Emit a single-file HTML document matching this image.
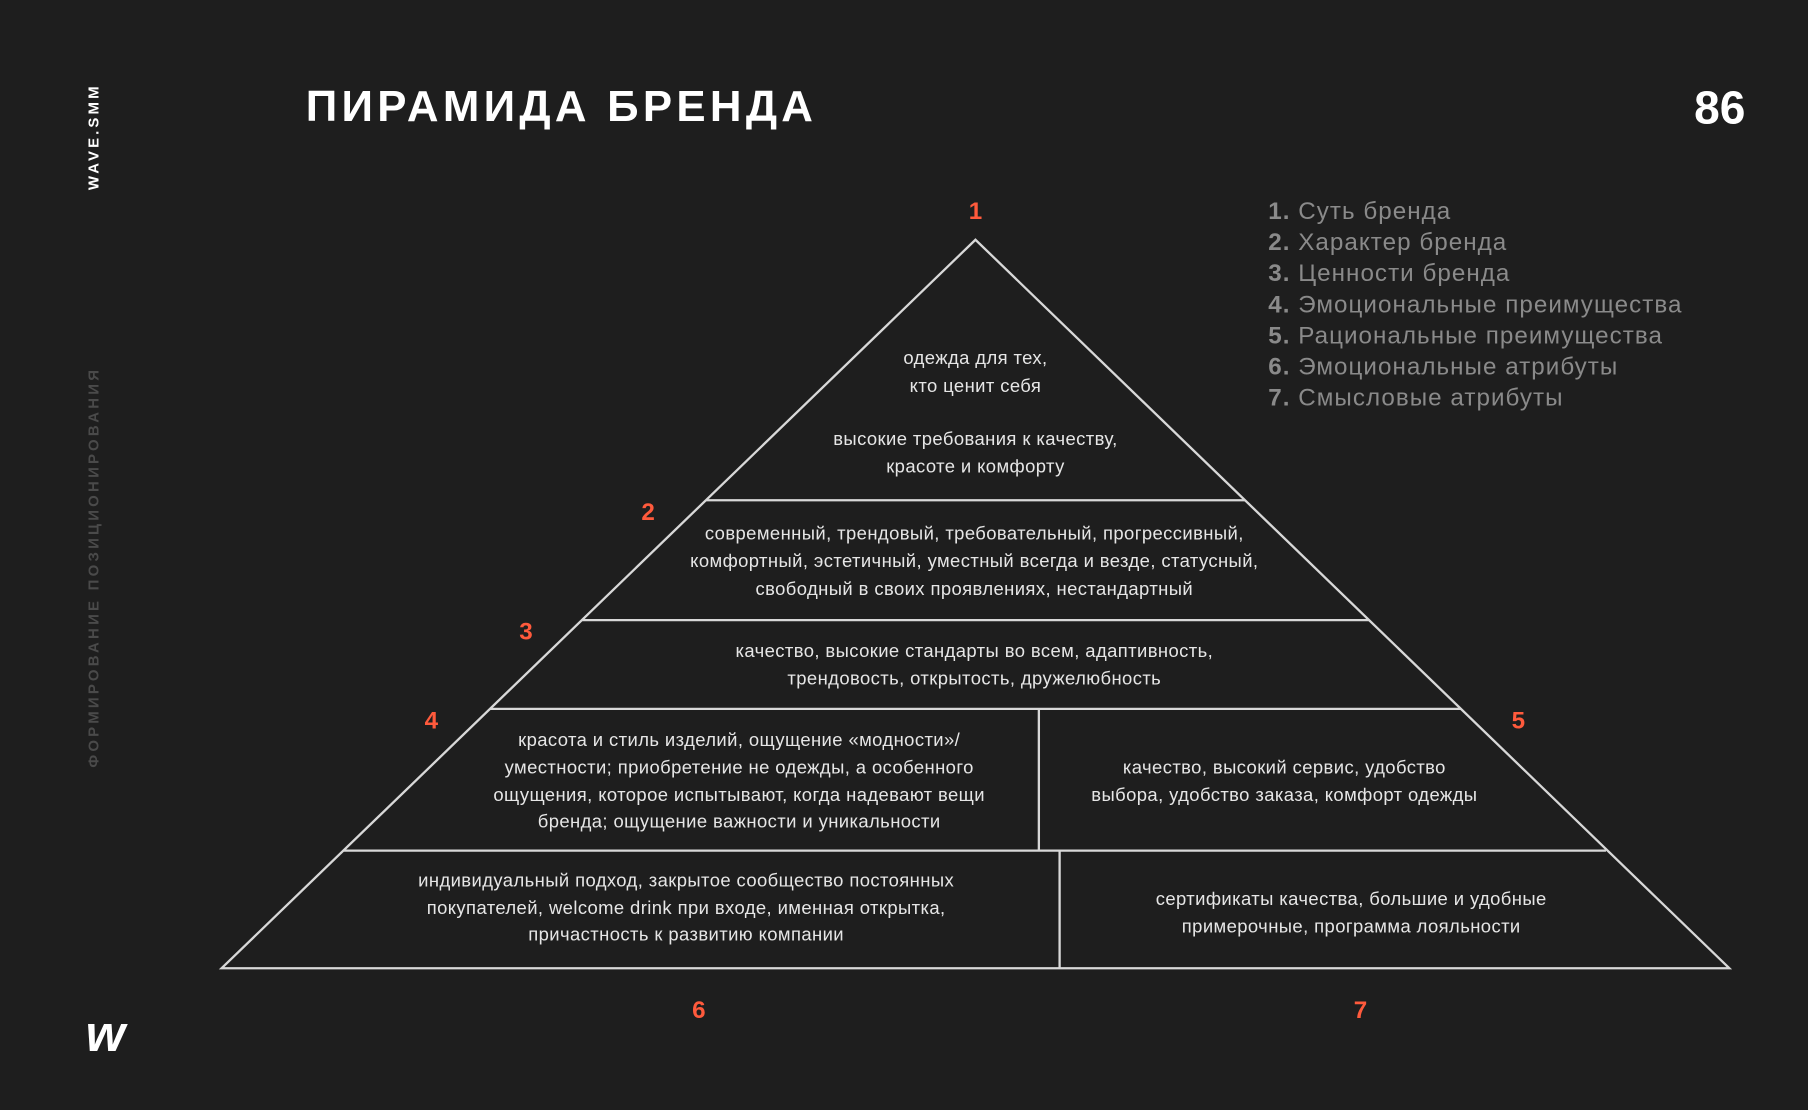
<!DOCTYPE html>
<html><head><meta charset="utf-8"><style>
html,body{margin:0;padding:0;background:#1e1e1e;}
svg{display:block}
text{font-family:"Liberation Sans",sans-serif;}
</style></head><body>
<svg width="1808" height="1110" viewBox="0 0 1568 963" xmlns="http://www.w3.org/2000/svg">
<rect width="1568" height="963" fill="#1e1e1e"/>
<text transform="translate(85,165) rotate(-90)" fill="#fff" font-size="13" font-weight="bold" textLength="90" lengthAdjust="spacing">WAVE.SMM</text>
<text transform="translate(85,666) rotate(-90)" fill="#4a4a4a" font-size="13" font-weight="bold" textLength="345" lengthAdjust="spacing">ФОРМИРОВАНИЕ ПОЗИЦИОНИРОВАНИЯ</text>
<text x="74" y="912" fill="#fff" font-size="44" font-weight="bold" font-family="Liberation Serif" font-style="italic">w</text>
<text x="265" y="105" fill="#fff" font-size="38" font-weight="bold" textLength="440" lengthAdjust="spacing">ПИРАМИДА БРЕНДА</text>
<text x="1514" y="107" fill="#fff" font-size="40" font-weight="bold" text-anchor="end">86</text>
<g fill="#8a8a8a" font-size="21" letter-spacing="0.9">
<text x="1100" y="190"><tspan font-weight="bold">1.</tspan> Суть бренда</text>
<text x="1100" y="217"><tspan font-weight="bold">2.</tspan> Характер бренда</text>
<text x="1100" y="244"><tspan font-weight="bold">3.</tspan> Ценности бренда</text>
<text x="1100" y="271"><tspan font-weight="bold">4.</tspan> Эмоциональные преимущества</text>
<text x="1100" y="298"><tspan font-weight="bold">5.</tspan> Рациональные преимущества</text>
<text x="1100" y="325"><tspan font-weight="bold">6.</tspan> Эмоциональные атрибуты</text>
<text x="1100" y="352"><tspan font-weight="bold">7.</tspan> Смысловые атрибуты</text>
</g>
<g stroke="#d8d8d8" stroke-width="2" fill="none">
<polygon points="846,208 192,840 1500,840"/>
<line x1="612" y1="434" x2="1080" y2="434"/>
<line x1="505" y1="538" x2="1187" y2="538"/>
<line x1="425" y1="615" x2="1267" y2="615"/>
<line x1="298" y1="738" x2="1393" y2="738"/>
<line x1="901" y1="615" x2="901" y2="738"/>
<line x1="919" y1="738" x2="919" y2="840"/>
</g>
<g fill="#ff5a3c" font-size="21" font-weight="bold" text-anchor="middle">
<text x="846" y="190">1</text><text x="562" y="451">2</text><text x="456" y="555">3</text>
<text x="374" y="632">4</text><text x="1317" y="632">5</text><text x="606" y="883">6</text><text x="1180" y="883">7</text>
</g>
<g fill="#e6e6e6" font-size="16" text-anchor="middle" letter-spacing="0.35">
<text x="846" y="316">одежда для тех,</text>
<text x="846" y="340">кто ценит себя</text>
<text x="846" y="386">высокие требования к качеству,</text>
<text x="846" y="410">красоте и комфорту</text>
<text x="845" y="468">современный, трендовый, требовательный, прогрессивный,</text>
<text x="845" y="492">комфортный, эстетичный, уместный всегда и везде, статусный,</text>
<text x="845" y="516">свободный в своих проявлениях, нестандартный</text>
<text x="845" y="570">качество, высокие стандарты во всем, адаптивность,</text>
<text x="845" y="594">трендовость, открытость, дружелюбность</text>
<text x="641" y="647">красота и стиль изделий, ощущение «модности»/</text>
<text x="641" y="671">уместности; приобретение не одежды, а особенного</text>
<text x="641" y="695">ощущения, которое испытывают, когда надевают вещи</text>
<text x="641" y="718">бренда; ощущение важности и уникальности</text>
<text x="1114" y="671">качество, высокий сервис, удобство</text>
<text x="1114" y="695">выбора, удобство заказа, комфорт одежды</text>
<text x="595" y="769">индивидуальный подход, закрытое сообщество постоянных</text>
<text x="595" y="793">покупателей, welcome drink при входе, именная открытка,</text>
<text x="595" y="816">причастность к развитию компании</text>
<text x="1172" y="785">сертификаты качества, большие и удобные</text>
<text x="1172" y="809">примерочные, программа лояльности</text>
</g>
</svg>
</body></html>
